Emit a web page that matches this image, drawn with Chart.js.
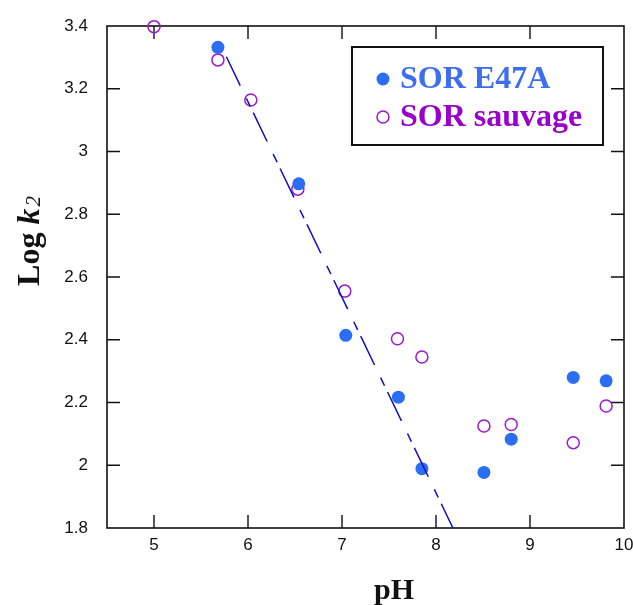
<!DOCTYPE html>
<html><head><meta charset="utf-8">
<script src="https://cdn.jsdelivr.net/npm/chart.js@4"></script>
<style>html,body{margin:0;padding:0;background:#fff;}#wrap{width:633px;height:605px;position:relative;}</style>
</head><body><div id="wrap"><canvas id="c" width="633" height="605"></canvas></div>
<script>
// ---- data ----
const phE47A  = [5.68, 6.54, 7.04, 7.60, 7.85, 8.51, 8.80, 9.46, 9.81];
const logE47A = [3.332, 2.897, 2.414, 2.217, 1.989, 1.977, 2.083, 2.280, 2.269];
const phWT    = [5.00, 5.68, 6.03, 6.53, 7.03, 7.59, 7.85, 8.51, 8.80, 9.46, 9.81];
const logWT   = [3.398, 3.292, 3.164, 2.880, 2.555, 2.403, 2.345, 2.125, 2.130, 2.072, 2.189];
const fitPH   = [5.77, 8.18];
const fitLog  = [3.302, 1.80];
const xTicks  = [5, 6, 7, 8, 9, 10];
const yTicks  = [1.8, 2.0, 2.2, 2.4, 2.6, 2.8, 3.0, 3.2, 3.4];
const seriesNames = ['SOR E47A', 'SOR sauvage'];
const xTitle = 'pH';
const yTitleParts = ['Log ', 'k', '2'];

const BLUE = '#2b6ef4', BLUE_TXT = '#3d6ef0', PURPLE = '#9b19cf', PURPLE_TXT = '#9900cc', FIT = '#0f0fc4';
const toPts = (xs, ys) => xs.map((v, i) => ({x: v, y: ys[i]}));
const noPad = s => { s.paddingTop = 0; s.paddingBottom = 0; s.paddingLeft = 0; s.paddingRight = 0; };

const framePlugin = {
  id: 'frame',
  beforeDatasetsDraw(chart) {
    const {ctx, chartArea: a, scales: {x, y}} = chart;
    ctx.save();
    ctx.strokeStyle = '#111'; ctx.lineWidth = 1.6;
    ctx.strokeRect(a.left, a.top, a.right - a.left, a.bottom - a.top);
    const L = 13;
    ctx.lineWidth = 1.4;
    ctx.beginPath();
    xTicks.forEach(v => {
      const p = x.getPixelForValue(v);
      if (p > a.left + 1 && p < a.right - 1) {
        ctx.moveTo(p, a.bottom); ctx.lineTo(p, a.bottom - L);
        ctx.moveTo(p, a.top); ctx.lineTo(p, a.top + L);
      }
    });
    yTicks.forEach(v => {
      const p = y.getPixelForValue(v);
      if (p > a.top + 1 && p < a.bottom - 1) {
        ctx.moveTo(a.left, p); ctx.lineTo(a.left + L, p);
        ctx.moveTo(a.right, p); ctx.lineTo(a.right - L, p);
      }
    });
    ctx.stroke();
    ctx.restore();
  },
  afterDraw(chart) {
    const {ctx, chartArea: a} = chart;
    ctx.save();
    // legend box
    const bx = a.left + 245, by = a.top + 21, bw = 251, bh = 98;
    ctx.strokeStyle = '#111'; ctx.lineWidth = 2;
    ctx.strokeRect(bx, by, bw, bh);
    const mx = bx + 31, r1 = by + 32, r2 = by + 70;
    ctx.fillStyle = BLUE;
    ctx.beginPath(); ctx.arc(mx, r1, 6.5, 0, Math.PI * 2); ctx.fill();
    ctx.strokeStyle = PURPLE; ctx.lineWidth = 1.5;
    ctx.beginPath(); ctx.arc(mx, r2, 6, 0, Math.PI * 2); ctx.stroke();
    ctx.font = 'bold 32px "Liberation Serif"';
    ctx.textBaseline = 'alphabetic'; ctx.textAlign = 'left';
    ctx.fillStyle = BLUE_TXT; ctx.fillText(chart.data.datasets[1].label, bx + 48, by + 41);
    ctx.fillStyle = PURPLE_TXT; ctx.fillText(chart.data.datasets[2].label, bx + 48, by + 79);
    // x title
    ctx.fillStyle = '#111';
    ctx.font = 'bold 30px "Liberation Serif"';
    ctx.textAlign = 'center';
    ctx.fillText(xTitle, 394, 599);
    // y title
    ctx.translate(39, 241);
    ctx.rotate(-Math.PI / 2);
    ctx.textAlign = 'left';
    const f0 = 'bold 32px "Liberation Serif"', f1 = 'italic bold 32px "Liberation Serif"', f2 = 'italic 21px "Liberation Serif"';
    ctx.font = f0; const w0 = ctx.measureText(yTitleParts[0]).width;
    ctx.font = f1; const w1 = ctx.measureText(yTitleParts[1]).width;
    ctx.font = f2; const w2 = ctx.measureText(yTitleParts[2]).width;
    let sx = -(w0 + w1 + w2 + 2) / 2;
    ctx.font = f0; ctx.fillText(yTitleParts[0], sx, 0); sx += w0;
    ctx.font = f1; ctx.fillText(yTitleParts[1], sx, 0); sx += w1 + 2;
    ctx.font = f2; ctx.fillText(yTitleParts[2], sx, 1);
    ctx.restore();
  }
};

new Chart(document.getElementById('c'), {
  type: 'scatter',
  data: {
    datasets: [
      {
        type: 'line', label: 'fit', data: toPts(fitPH, fitLog),
        borderColor: FIT, borderWidth: 1.5, borderDash: [32, 14, 9, 7],
        pointRadius: 0, fill: false, tension: 0
      },
      {
        label: seriesNames[0], data: toPts(phE47A, logE47A),
        pointStyle: 'circle', pointRadius: 6.5, backgroundColor: BLUE, borderColor: BLUE, borderWidth: 0,
        clip: false
      },
      {
        label: seriesNames[1], data: toPts(phWT, logWT),
        pointStyle: 'circle', pointRadius: 6, backgroundColor: 'rgba(0,0,0,0)', borderColor: PURPLE, borderWidth: 1.5,
        clip: false
      }
    ]
  },
  options: {
    responsive: false,
    animation: false,
    devicePixelRatio: 1,
    layout: {padding: {top: 26, right: 9, left: 0, bottom: 0}},
    plugins: {legend: {display: false}, tooltip: {enabled: false}},
    scales: {
      x: {
        type: 'linear', min: 4.5, max: 10,
        afterBuildTicks: s => { s.ticks = xTicks.map(v => ({value: v})); },
        afterFit: s => { s.height = 77; noPad(s); },
        grid: {display: false, drawTicks: false}, border: {display: false},
        ticks: {padding: 7, color: '#111', font: {family: 'Liberation Sans', size: 17}, maxRotation: 0, autoSkip: false,
                callback: v => String(v)}
      },
      y: {
        type: 'linear', min: 1.8, max: 3.4,
        afterBuildTicks: s => { s.ticks = yTicks.map(v => ({value: v})); },
        afterFit: s => { s.width = 107; noPad(s); },
        grid: {display: false, drawTicks: false}, border: {display: false},
        ticks: {padding: 19, color: '#111', font: {family: 'Liberation Sans', size: 17}, autoSkip: false,
                callback: v => String(+Number(v).toFixed(1))}
      }
    }
  },
  plugins: [framePlugin]
});
</script>
</body></html>
